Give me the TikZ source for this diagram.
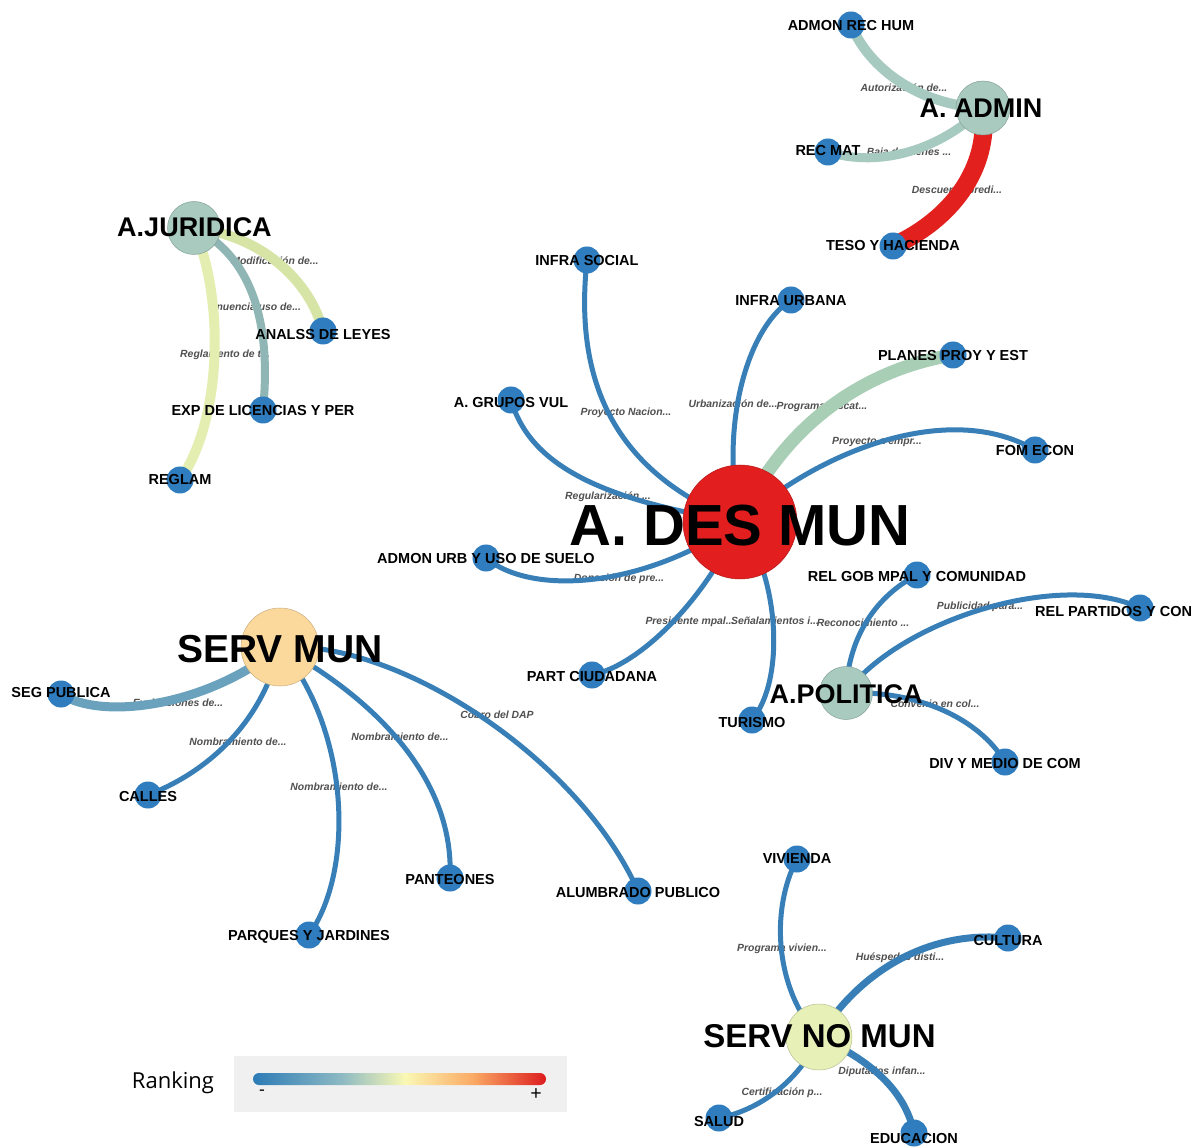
\documentclass[tikz,border=0pt]{standalone}
\usepackage{fontspec}
\setmainfont{Liberation Sans}
\newfontfamily\legendfont{Open Sans}
\pgfdeclarelayer{paper}
\pgfdeclarelayer{elabels}
\pgfdeclarelayer{edges}
\pgfdeclarelayer{labels}
\pgfsetlayers{paper,elabels,edges,main,labels}

\definecolor{nodeblue}{RGB}{47,125,190}
\definecolor{edgeblue}{RGB}{56,127,184}
\definecolor{hubred}{RGB}{226,30,30}
\definecolor{hubteal}{RGB}{168,202,191}
\definecolor{huborange}{RGB}{251,216,156}
\definecolor{hubyellow}{RGB}{230,240,183}
\definecolor{edgeteal}{RGB}{166,202,192}
\definecolor{edgetealdark}{RGB}{143,182,180}
\definecolor{edgelime}{RGB}{214,228,166}
\definecolor{edgepale}{RGB}{228,238,176}
\definecolor{edgegreen}{RGB}{168,207,181}
\definecolor{edgesteel}{RGB}{106,162,189}
\definecolor{edgered}{RGB}{226,32,30}
\definecolor{elabelgray}{RGB}{80,80,80}
\definecolor{legendbg}{RGB}{240,240,240}
\definecolor{rkA}{RGB}{44,123,182}
\definecolor{rkB}{RGB}{140,185,195}
\definecolor{rkC}{RGB}{250,248,180}
\definecolor{rkD}{RGB}{250,170,100}
\definecolor{rkE}{RGB}{220,28,30}
% TikZ maps the 25bp--75bp band of a shading onto the path
\pgfdeclarehorizontalshading{ranking}{100bp}{color(0bp)=(rkA); color(25bp)=(rkA); color(40bp)=(rkB); color(51bp)=(rkC); color(62.5bp)=(rkD); color(75bp)=(rkE); color(100bp)=(rkE)}

\tikzset{
  hub/.style={circle, draw=#1!80!black, line width=0.5pt, fill=#1, inner sep=0pt},
  leaf/.style={circle, fill=nodeblue, minimum size=27pt, inner sep=0pt},
  nlbl/.style={font=\bfseries\fontsize{14.5}{16}\selectfont, inner sep=0pt, anchor=base},
  hlbl/.style={font=\bfseries\fontsize{#1}{#1}\selectfont, inner sep=0pt, anchor=base},
  elbl/.style={font=\bfseries\itshape\fontsize{10.4}{12}\selectfont, text=elabelgray, inner sep=0pt, anchor=mid},
  link/.style={draw=edgeblue, line width=5pt},
  wide/.style 2 args={draw=#1, line width=#2},
}

\begin{document}
\begin{tikzpicture}[x=1pt, y=-1pt]
\useasboundingbox (0,0) rectangle (1195,1147);
\begin{pgfonlayer}{paper}
\fill[white] (0,0) rectangle (1195,1147);
\end{pgfonlayer}

% ---- hubs
\node[hub=hubred, minimum size=114pt] (desmun) at (740,522) {};
\node[hub=hubteal, minimum size=54pt] (admin) at (983,108) {};
\node[hub=hubteal, minimum size=53pt] (jur) at (194,228) {};
\node[hub=huborange, minimum size=78pt] (servmun) at (280,647) {};
\node[hub=hubteal, minimum size=53pt] (pol) at (846,693) {};
\node[hub=hubyellow, minimum size=66pt] (servno) at (819,1037) {};

% ---- leaves
\node[leaf] (admonrh) at (851,25) {};
\node[leaf] (recmat) at (828,152) {};
\node[leaf] (teso) at (893,246) {};
\node[leaf] (analss) at (323,331) {};
\node[leaf] (exp) at (263,410) {};
\node[leaf] (reglam) at (180,480) {};
\node[leaf] (infsoc) at (587,260) {};
\node[leaf] (infurb) at (791,300) {};
\node[leaf] (planes) at (953,355) {};
\node[leaf] (fomecon) at (1035,450) {};
\node[leaf] (grupos) at (511,400) {};
\node[leaf] (admonurb) at (486,558) {};
\node[leaf] (partc) at (592,675) {};
\node[leaf] (turismo) at (752,720) {};
\node[leaf] (relgob) at (917,575) {};
\node[leaf] (relpart) at (1140,608) {};
\node[leaf] (divmed) at (1005,762) {};
\node[leaf] (segpub) at (61,694) {};
\node[leaf] (calles) at (148,795) {};
\node[leaf] (panteon) at (450,878) {};
\node[leaf] (alumbr) at (638,891) {};
\node[leaf] (parques) at (309,935) {};
\node[leaf] (vivienda) at (797,859) {};
\node[leaf] (cultura) at (1008,938) {};
\node[leaf] (salud) at (719,1118) {};
\node[leaf] (educ) at (914,1133) {};

% ---- connectors
\begin{pgfonlayer}{edges}
\draw[wide={edgeteal}{10pt}] (admonrh.center) .. controls (870,70) and (920,105) .. (admin.center);
\draw[wide={edgeteal}{9pt}] (recmat.center) .. controls (880,168) and (940,150) .. (admin.center);
\draw[wide={edgered}{18pt}] (teso.center) .. controls (950,220) and (990,170) .. (admin.center);

\draw[wide={edgelime}{10pt}] (jur.center) .. controls (260,235) and (310,280) .. (analss.center);
\draw[wide={edgetealdark}{8pt}] (jur.center) .. controls (250,255) and (272,320) .. (exp.center);
\draw[wide={edgepale}{10pt}] (jur.center) .. controls (225,300) and (222,420) .. (reglam.center);

\draw[link] (infsoc.center) .. controls (575,370) and (605,470) .. (desmun.center);
\draw[link] (infurb.center) .. controls (745,330) and (720,430) .. (desmun.center);
\draw[wide={edgegreen}{13pt}] (desmun.center) .. controls (780,430) and (860,370) .. (planes.center);
\draw[link] (desmun.center) .. controls (820,450) and (950,400) .. (fomecon.center);
\draw[link] (grupos.center) .. controls (530,465) and (600,500) .. (desmun.center);
\draw[link] (admonurb.center) .. controls (530,595) and (640,590) .. (desmun.center);
\draw[link] (partc.center) .. controls (640,665) and (705,600) .. (desmun.center);
\draw[link] (desmun.center) .. controls (780,580) and (785,680) .. (turismo.center);

\draw[link] (pol.center) .. controls (848,635) and (878,595) .. (relgob.center);
\draw[link] (pol.center) .. controls (900,620) and (1060,570) .. (relpart.center);
\draw[link] (pol.center) .. controls (920,690) and (980,720) .. (divmed.center);

\draw[wide={edgesteel}{9pt}] (segpub.center) .. controls (100,720) and (205,708) .. (servmun.center);
\draw[link] (calles.center) .. controls (200,775) and (260,730) .. (servmun.center);
\draw[link] (servmun.center) .. controls (350,730) and (355,870) .. (parques.center);
\draw[link] (servmun.center) .. controls (360,690) and (455,770) .. (panteon.center);
\draw[link] (servmun.center) .. controls (400,640) and (580,760) .. (alumbr.center);

\draw[link] (vivienda.center) .. controls (770,910) and (775,990) .. (servno.center);
\draw[wide={edgeblue}{7pt}] (servno.center) .. controls (860,970) and (930,930) .. (cultura.center);
\draw[link] (servno.center) .. controls (800,1080) and (760,1110) .. (salud.center);
\draw[wide={edgeblue}{7pt}] (servno.center) .. controls (870,1060) and (905,1090) .. (educ.center);
\end{pgfonlayer}

% ---- connector labels
\begin{pgfonlayer}{elabels}
\node[elbl] (e1) at (904,89) {Autorización de...};
\node[elbl] (e2) at (909,153) {Baja de bienes ...};
\node[elbl] (e3) at (957,191) {Descuento predi...};
\node[elbl] (e4) at (275,262) {Modificación de...};
\node[elbl] (e5) at (255,308) {Anuencia uso de...};
\node[elbl] (e6) at (225,355) {Reglamento de t...};
\node[elbl] (e7) at (626,413) {Proyecto Nacion...};
\node[elbl] (e8) at (733,405) {Urbanización de...};
\node[elbl] (e9) at (822,407) {Programa rescat...};
\node[elbl] (e10) at (877,442) {Proyecto a empr...};
\node[elbl] (e11) at (608,497) {Regularización ...};
\node[elbl] (e12) at (619,579) {Donación de pre...};
\node[elbl] (e13) at (690,622) {Presidente mpal...};
\node[elbl] (e14) at (775,622) {Señalamientos i...};
\node[elbl] (e15) at (863,624) {Reconocimiento ...};
\node[elbl] (e16) at (980,607) {Publicidad para...};
\node[elbl] (e17) at (935,705) {Convenio en col...};
\node[elbl] (e18) at (178,704) {Evaluaciones de...};
\node[elbl] (e19) at (238,743) {Nombramiento de...};
\node[elbl] (e20) at (400,738) {Nombramiento de...};
\node[elbl] (e21) at (339,788) {Nombramiento de...};
\node[elbl] (e22) at (497,716) {Cobro del DAP};
\node[elbl] (e23) at (782,949) {Programa vivien...};
\node[elbl] (e24) at (900,958) {Huéspedes disti...};
\node[elbl] (e25) at (882,1072) {Diputados infan...};
\node[elbl] (e26) at (782,1093) {Certificación p...};
\end{pgfonlayer}

% ---- node labels
\begin{pgfonlayer}{labels}
\node[hlbl=58] (desmun-t) at (740,545) {A. DES MUN};
\node[hlbl=27] (admin-t) at (981,118) {A. ADMIN};
\node[hlbl=27] (jur-t) at (194.5,237) {A.JURIDICA};
\node[hlbl=39] (servmun-t) at (280,662) {SERV MUN};
\node[hlbl=27] (pol-t) at (846,703) {A.POLITICA};
\node[hlbl=33] (servno-t) at (819.5,1047) {SERV NO MUN};

\node[nlbl] (admonrh-t) at ([yshift=-5.5pt]admonrh.center) {ADMON REC HUM};
\node[nlbl] (recmat-t) at ([yshift=-4pt]recmat.center) {REC MAT};
\node[nlbl] (teso-t) at ([yshift=-5pt]teso.center) {TESO Y HACIENDA};
\node[nlbl] (analss-t) at ([yshift=-9pt]analss.center) {ANALSS DE LEYES};
\node[nlbl] (exp-t) at ([yshift=-6pt]exp.center) {EXP DE LICENCIAS Y PER};
\node[nlbl] (reglam-t) at ([yshift=-5pt]reglam.center) {REGLAM};
\node[nlbl] (infsoc-t) at ([yshift=-6pt]infsoc.center) {INFRA SOCIAL};
\node[nlbl] (infurb-t) at ([yshift=-6pt]infurb.center) {INFRA URBANA};
\node[nlbl] (planes-t) at ([yshift=-6pt]planes.center) {PLANES PROY Y EST};
\node[nlbl] (fomecon-t) at ([yshift=-6pt]fomecon.center) {FOM ECON};
\node[nlbl] (grupos-t) at ([yshift=-8pt]grupos.center) {A. GRUPOS VUL};
\node[nlbl] (admonurb-t) at ([yshift=-6pt]admonurb.center) {ADMON URB Y USO DE SUELO};
\node[nlbl] (partc-t) at ([yshift=-6pt]partc.center) {PART CIUDADANA};
\node[nlbl] (turismo-t) at ([yshift=-7pt]turismo.center) {TURISMO};
\node[nlbl] (relgob-t) at ([yshift=-6pt]relgob.center) {REL GOB MPAL Y COMUNIDAD};
\node[nlbl] (divmed-t) at ([yshift=-6pt]divmed.center) {DIV Y MEDIO DE COM};
\node[nlbl] (segpub-t) at ([yshift=-3pt]segpub.center) {SEG PUBLICA};
\node[nlbl] (calles-t) at ([yshift=-6pt]calles.center) {CALLES};
\node[nlbl] (panteon-t) at ([yshift=-6pt]panteon.center) {PANTEONES};
\node[nlbl] (alumbr-t) at ([yshift=-6pt]alumbr.center) {ALUMBRADO PUBLICO};
\node[nlbl] (parques-t) at ([yshift=-5pt]parques.center) {PARQUES Y JARDINES};
\node[nlbl] (vivienda-t) at ([yshift=-4pt]vivienda.center) {VIVIENDA};
\node[nlbl] (cultura-t) at ([yshift=-7pt]cultura.center) {CULTURA};
\node[nlbl] (salud-t) at ([yshift=-8pt]salud.center) {SALUD};
\node[nlbl] (educ-t) at ([yshift=-10pt]educ.center) {EDUCACION};
\begin{scope}
\clip (0,0) rectangle (1195,1147);
\node[nlbl, anchor=base west] (relpart-t) at (1035,616) {REL PARTIDOS Y CON};
\end{scope}
\end{pgfonlayer}

% ---- ranking legend
\node[font=\legendfont\fontsize{22}{24}\selectfont, inner sep=0pt, anchor=base] (rank-t) at (173,1088) {Ranking};
\fill[legendbg] (234,1056) rectangle (567,1112);
\shade[shading=ranking, rounded corners=6pt] (253,1073) rectangle (546,1085);
\node[font=\legendfont\fontsize{18}{20}\selectfont, inner sep=0pt] (rank-lo) at (262,1093) {-};
\node[font=\legendfont\fontsize{20}{22}\selectfont, inner sep=0pt] (rank-hi) at (536,1095) {+};
\end{tikzpicture}
\end{document}
